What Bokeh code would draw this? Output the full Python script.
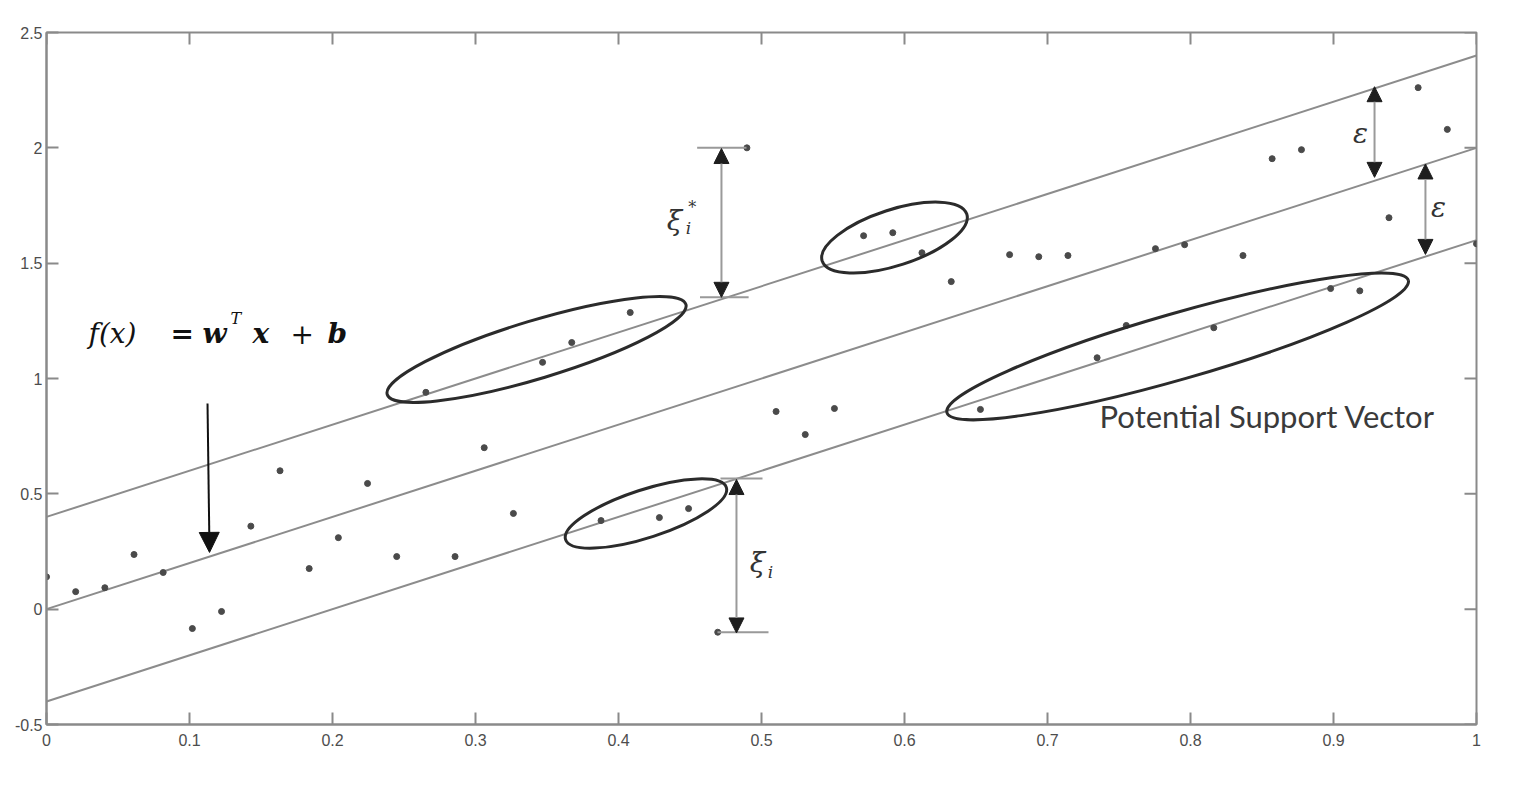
from bokeh.plotting import figure
from bokeh.models import (Range1d, FixedTicker, Label, Arrow, NormalHead)
from bokeh.embed import file_html
from bokeh.resources import INLINE

# ---------------- data ----------------
x_pts = [0.0, 0.0204, 0.0408, 0.0612, 0.0816, 0.1020, 0.1224, 0.1429, 0.1633, 0.1837,
         0.2041, 0.2245, 0.2449, 0.2653, 0.2857, 0.3061, 0.3265, 0.3469, 0.3673, 0.3878,
         0.4082, 0.4286, 0.4490, 0.4694, 0.4898, 0.5102, 0.5306, 0.5510, 0.5714, 0.5918,
         0.6122, 0.6327, 0.6531, 0.6735, 0.6939, 0.7143, 0.7347, 0.7551, 0.7755, 0.7959,
         0.8163, 0.8367, 0.8571, 0.8776, 0.8980, 0.9184, 0.9388, 0.9592, 0.9796, 1.0]
y_pts = [0.14, 0.076, 0.093, 0.237, 0.159, -0.084, -0.01, 0.36, 0.60, 0.176,
         0.31, 0.545, 0.228, 0.94, 0.228, 0.70, 0.415, 1.07, 1.156, 0.384,
         1.286, 0.397, 0.436, -0.10, 2.0, 0.857, 0.757, 0.87, 1.619, 1.632,
         1.545, 1.42, 0.866, 1.537, 1.528, 1.533, 1.09, 1.23, 1.563, 1.58,
         1.22, 1.533, 1.953, 1.992, 1.39, 1.38, 1.697, 2.261, 2.08, 1.584]

line_x = [0.0, 1.0]
center_y = [0.0, 2.0]
upper_y = [0.4, 2.4]
lower_y = [-0.4, 1.6]

x_ticks = [0, 0.1, 0.2, 0.3, 0.4, 0.5, 0.6, 0.7, 0.8, 0.9, 1]
x_tick_labels = ["0", "0.1", "0.2", "0.3", "0.4", "0.5", "0.6", "0.7", "0.8", "0.9", "1"]
y_ticks = [-0.5, 0, 0.5, 1, 1.5, 2, 2.5]
y_tick_labels = ["-0.5", "0", "0.5", "1", "1.5", "2", "2.5"]

X_MIN, X_MAX = 0, 1
Y_MIN, Y_MAX = -0.5, 2.5

# ---------------- annotations (ellipses around potential support vectors) ----------------
ell_x = [0.3427, 0.593, 0.4192, 0.791]
ell_y = [1.126, 1.611, 0.4147, 1.139]
ell_w = [312, 152, 169, 480]
ell_h = [58, 56, 48, 66]
ell_a = [16.8, 18, 18, 16]

AX = "#8a8a8a"
LN = "#8c8c8c"

p = figure(frame_width=1430, frame_height=692, output_backend="svg",
           toolbar_location=None, x_range=Range1d(X_MIN, X_MAX), y_range=Range1d(Y_MIN, Y_MAX),
           min_border_left=46, min_border_top=32, min_border_right=30,
           min_border_bottom=50, background_fill_color="white",
           border_fill_color="white")
p.outline_line_color = AX
p.outline_line_width = 2
p.grid.visible = False


def style_axis(ax, labels_map, standoff):
    ax.axis_line_color = AX
    ax.axis_line_width = 2
    ax.major_tick_line_color = AX
    ax.major_tick_line_width = 2
    ax.major_tick_in = 12
    ax.major_tick_out = 0
    ax.minor_tick_line_color = None
    ax.major_label_overrides = labels_map
    ax.major_label_text_font = "Liberation Sans"
    ax.major_label_text_font_size = "16px"
    ax.major_label_text_color = "#4d4d4d"
    ax.major_label_standoff = standoff


p.xaxis.ticker = FixedTicker(ticks=x_ticks)
p.yaxis.ticker = FixedTicker(ticks=y_ticks)
style_axis(p.xaxis[0], {t: l for t, l in zip(x_ticks, x_tick_labels)}, 9)
style_axis(p.yaxis[0], {t: l for t, l in zip(y_ticks, y_tick_labels)}, 4)

# inward ticks on the top and right edges of the box (half of each dash is clipped)
p.scatter(x_ticks, [Y_MAX] * len(x_ticks), marker="dash", size=24, angle=90,
          angle_units="deg", line_color=AX, line_width=2)
p.scatter([X_MAX] * len(y_ticks), y_ticks, marker="dash", size=24,
          line_color=AX, line_width=2)

# regression line and epsilon tube
for ys in (upper_y, center_y, lower_y):
    p.line(line_x, ys, line_color=LN, line_width=2)

# data points
p.scatter(x_pts, y_pts, size=6, color="#4a4a4a")

# ellipses
p.ellipse(x=ell_x, y=ell_y, width=ell_w, height=ell_h, angle=ell_a,
          width_units="screen", height_units="screen", angle_units="deg",
          fill_color=None, line_color="#2b2b2b", line_width=3)

# slack bars
bar_x0 = [0.455, 0.457, 0.4713, 0.4692]
bar_x1 = [0.4895, 0.491, 0.5007, 0.5049]
bar_y = [2.0, 1.352, 0.567, -0.10]
p.segment(bar_x0, bar_y, bar_x1, bar_y, line_color="#999999", line_width=2)


def head():
    return NormalHead(size=15, fill_color="#1e1e1e", line_color="#1e1e1e", line_width=1)


def dbl_arrow(x, y0, y1):
    p.add_layout(Arrow(x_start=x, y_start=y0, x_end=x, y_end=y1,
                       line_color="#9a9a9a", line_width=2, start=head(), end=head()))


dbl_arrow(0.472, 1.997, 1.352)     # xi*
dbl_arrow(0.4825, 0.562, -0.103)   # xi
dbl_arrow(0.9287, 2.265, 1.872)    # eps 1
dbl_arrow(0.9643, 1.93, 1.538)     # eps 2

# f(x) arrow
p.add_layout(Arrow(x_start=0.1126, y_start=0.892, x_end=0.1140, y_end=0.246,
                   line_color="#111111", line_width=2,
                   end=NormalHead(size=20, fill_color="#111111", line_color="#111111")))

SERIF = "DejaVu Serif"


def lab(x, y, t, size, style="italic", align="center", baseline="middle", color="#333333", font=SERIF):
    p.add_layout(Label(x=x, y=y, text=t, text_font=font, text_font_size=size,
                       text_font_style=style, text_color=color, text_align=align,
                       text_baseline=baseline))


# xi*_i
lab(0.4392, 1.684, "ξ", "28px")
lab(0.4490, 1.652, "i", "17px")
lab(0.4515, 1.742, "*", "16px", style="normal")
# xi_i
lab(0.4972, 0.202, "ξ", "28px")
lab(0.5062, 0.162, "i", "17px")
# epsilons
lab(0.9189, 2.062, "ε", "28px")
lab(0.9734, 1.741, "ε", "28px")

# formula f(x) = w^T x + b
fy = 1.194
K = "#111111"
lab(0.0294, fy, "f(x)", "28px", align="left", baseline="alphabetic", color=K)
lab(0.0867, fy, "=", "28px", style="bold", align="left", baseline="alphabetic", color=K)
lab(0.1091, fy, "w", "28px", style="bold italic", align="left", baseline="alphabetic", color=K)
lab(0.1287, 1.260, "T", "16px", style="italic", align="left", baseline="alphabetic", color=K)
lab(0.1441, fy, "x", "28px", style="bold italic", align="left", baseline="alphabetic", color=K)
lab(0.1706, fy, "+", "28px", style="normal", align="left", baseline="alphabetic", color=K)
lab(0.1965, fy, "b", "28px", style="bold italic", align="left", baseline="alphabetic", color=K)

# Potential Support Vector
lab(0.7364, 0.839, "Potential Support Vector", "31px", style="normal", align="left",
    color="#3a3a3a", font="Lato")

open("out.html", "w").write(file_html(p, INLINE))
